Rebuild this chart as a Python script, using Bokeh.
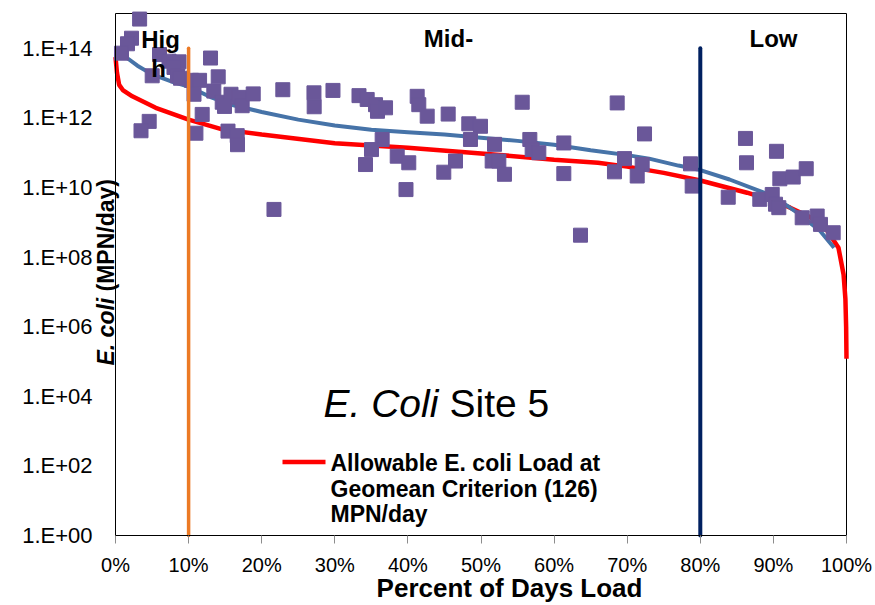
import math

from bokeh.plotting import figure
from bokeh.models import Label, FixedTicker
from bokeh.embed import file_html
from bokeh.resources import INLINE

# Allowable load curve (flow duration x geomean criterion): % of days vs log10(MPN/day)
allow_pct = [0.0, 0.2, 0.5, 1.0, 2.3, 5.5, 10, 14.6, 20, 30, 40, 50, 60, 66, 70,
             75, 80, 86.4, 90, 92.3, 95, 97.4, 98.9, 99.6, 99.85, 99.95, 100]
allow_log = [13.75, 13.3, 12.95, 12.8, 12.62, 12.29, 11.95, 11.67, 11.52, 11.27, 11.14,
             10.98, 10.8, 10.71, 10.6, 10.42, 10.2, 9.85, 9.62, 9.42, 9.15, 8.75,
             8.27, 7.5, 6.8, 6.0, 5.08]

# Fitted trend through the observed loads
fit_pct = [1.4, 3, 5, 8, 10, 13, 16, 20, 25, 30, 35, 40, 45, 50, 55, 60, 65, 70,
           73, 77, 80, 84, 88.7, 91, 93.3, 96.4, 98.3]
fit_log = [13.75, 13.5, 13.25, 13.02, 12.9, 12.6, 12.37, 12.17, 11.95, 11.78, 11.66,
           11.59, 11.52, 11.43, 11.34, 11.23, 11.07, 10.93, 10.83, 10.63, 10.5,
           10.23, 9.85, 9.6, 9.27, 8.75, 8.27]

# Observed E. coli loads
obs_pct = [3.30, 2.19, 1.64, 0.82, 6.02, 5.02, 4.61, 3.49, 7.32, 8.69, 8.00, 8.48,
           8.89, 10.4, 11.5, 10.74, 11.86, 11.0, 13.0, 14.05, 13.45, 14.6, 15.8, 16.96,
           14.91, 17.33, 18.84, 15.39, 16.65, 16.69, 22.89, 27.15, 27.18, 29.75, 33.31,
           34.43, 35.57, 35.84, 36.94, 36.48, 35.02, 34.2, 38.54, 40.12, 39.74, 21.68,
           41.27, 41.49, 42.64, 45.51, 48.33, 49.93, 48.56, 55.64, 51.85, 56.68, 57.0,
           57.91, 61.33, 61.33, 46.51, 44.91, 51.53, 52.44, 53.21, 68.63, 72.37, 69.63,
           68.26, 72.05, 71.37, 78.66, 78.89, 63.61, 86.18, 86.32, 90.42, 83.82, 90.88,
           92.71, 94.49, 88.14, 89.84, 90.29, 90.74, 93.94, 95.99, 96.44, 98.18]
obs_log = [14.84, 14.29, 14.13, 13.86, 13.82, 13.21, 11.90, 11.63, 13.63, 13.61, 13.45,
           13.21, 13.14, 13.08, 13.08, 12.68, 12.10, 11.56, 13.72, 13.18, 12.77, 12.45,
           12.68, 12.59, 12.33, 12.35, 12.69, 11.62, 11.49, 11.23, 12.81, 12.72, 12.32,
           12.79, 12.64, 12.53, 12.38, 12.19, 12.29, 11.38, 11.09, 10.66, 10.9, 10.71,
           9.94, 9.37, 12.62, 12.38, 12.05, 12.11, 11.83, 11.76, 11.38, 12.45, 11.24,
           11.38, 11.09, 11.0, 11.28, 10.40, 10.76, 10.44, 10.76, 10.76, 10.38, 12.43,
           11.54, 10.83, 10.45, 10.66, 10.33, 10.68, 10.04, 8.63, 11.41, 10.71, 11.04,
           9.72, 10.25, 10.30, 10.54, 9.66, 9.80, 9.52, 9.42, 9.13, 9.18, 8.94, 8.70]

# Flow regime boundaries
zone_bounds = [10, 80]
zone_colors = ["#EC7A25", "#002060"]

x_ticks = [0, 10, 20, 30, 40, 50, 60, 70, 80, 90, 100]
x_tick_labels = ["0%", "10%", "20%", "30%", "40%", "50%", "60%", "70%", "80%", "90%", "100%"]
y_exponents = [0, 2, 4, 6, 8, 10, 12, 14]
y_tick_labels = ["1.E+00", "1.E+02", "1.E+04", "1.E+06", "1.E+08", "1.E+10", "1.E+12", "1.E+14"]

X_MIN, X_MAX = 0, 100
Y_MIN, Y_MAX = 1.0, 1e15

FONT = "Liberation Sans"
W, H = 875, 605
# where the plotting box sits on the canvas
BOX_LEFT, BOX_RIGHT, BOX_TOP, BOX_BOTTOM = 115, 846, 13, 535
# offset (in em) between a Label's anchor and the drawn baseline
BASELINE_SHIFT = 0.37


def sx(px):
    """Canvas pixel column -> percent of days."""
    return X_MIN + (px - BOX_LEFT) / (BOX_RIGHT - BOX_LEFT) * (X_MAX - X_MIN)


def sy(py):
    """Canvas pixel row -> load (log axis)."""
    decades = math.log10(Y_MAX / Y_MIN)
    return Y_MIN * 10 ** ((BOX_BOTTOM - py) / (BOX_BOTTOM - BOX_TOP) * decades)


# The data frame spans the whole canvas; axes are pinned to the plotting box
p = figure(width=W, height=H, x_range=(sx(0), sx(W)), y_range=(sy(H), sy(0)),
           y_axis_type="log", output_backend="svg", toolbar_location=None,
           min_border_left=0, min_border_right=0, min_border_top=0, min_border_bottom=0)

p.background_fill_color = "white"
p.border_fill_color = "white"
p.outline_line_color = None
p.xgrid.visible = False
p.ygrid.visible = False

# x axis
p.xaxis.fixed_location = Y_MIN
p.xaxis.bounds = (X_MIN, X_MAX)
p.xaxis.ticker = FixedTicker(ticks=x_ticks)
p.xaxis.major_label_overrides = {t: lab for t, lab in zip(x_ticks, x_tick_labels)}
p.xaxis.minor_tick_line_color = None
p.xaxis.major_tick_in = 0
p.xaxis.major_tick_out = 8
p.xaxis.major_tick_line_color = "#8c8c8c"
p.xaxis.axis_line_color = "black"
p.xaxis.major_label_text_font = FONT
p.xaxis.major_label_text_font_size = "20px"
p.xaxis.major_label_text_color = "black"
p.xaxis.major_label_standoff = 10

# y axis
y_ticks = [float(10 ** e) for e in y_exponents]
p.yaxis.fixed_location = X_MIN
p.yaxis.bounds = (Y_MIN, Y_MAX)
p.yaxis.ticker = FixedTicker(ticks=y_ticks)
p.yaxis.major_label_overrides = {t: lab for t, lab in zip(y_ticks, y_tick_labels)}
p.yaxis.minor_tick_line_color = None
p.yaxis.major_tick_in = 0
p.yaxis.major_tick_out = 0
p.yaxis.axis_line_color = "black"
p.yaxis.major_label_text_font = FONT
p.yaxis.major_label_text_font_size = "22px"
p.yaxis.major_label_text_color = "black"
p.yaxis.major_label_standoff = 23

# top and right edges of the plotting box
p.multi_line(xs=[[X_MIN, X_MAX], [X_MAX, X_MAX]], ys=[[Y_MAX, Y_MAX], [Y_MIN, Y_MAX]],
             line_color="black", line_width=1)

# curves
p.line(allow_pct, [10 ** v for v in allow_log], line_color="#FF0000", line_width=4.5)
p.line(fit_pct, [10 ** v for v in fit_log], line_color="#4673A8", line_width=4)

# observations
p.scatter(obs_pct, [10 ** v for v in obs_log], marker="square", size=14,
          fill_color="#6A5799", line_color="#6A5799", line_width=1)

# regime boundaries
p.segment(x0=zone_bounds, y0=[Y_MIN] * len(zone_bounds), x1=zone_bounds,
          y1=[1e14] * len(zone_bounds), line_color=zone_colors,
          line_width=[3.5, 4], line_cap="round")


def label(text, px, py, size, style="bold", align="left", vertical=False):
    """Text whose baseline starts (or is centred) at canvas pixel (px, py)."""
    shift = BASELINE_SHIFT * size
    if vertical:
        px -= shift
    else:
        py -= shift
    p.add_layout(Label(x=sx(px), y=sy(py), text=text, text_font=FONT,
                       text_font_size=f"{size}px", text_font_style=style,
                       text_align=align, text_baseline="alphabetic",
                       text_color="black", angle=math.pi / 2 if vertical else 0.0))


# flow regime names
label("Hig", 160, 48, 24, align="center")
label("h", 158, 77, 24, align="center")
label("Mid-", 448, 47, 24, align="center")
label("Low", 773, 47, 24, align="center")

# chart title inside the plot
label("E. Coli", 323, 417, 39, style="italic")
label("Site 5", 449, 417, 39, style="normal")

# legend
p.line([sx(282), sx(325)], [sy(461.5)] * 2, line_color="#FF0000", line_width=4.5)
for txt, base in zip(["Allowable E. coli Load at", "Geomean Criterion (126)", "MPN/day"],
                     [471.5, 497, 522.5]):
    label(txt, 330, base, 23)

# axis titles
label("Percent of Days Load", 509, 597, 26, align="center")
label("E. coli", 114, 365, 23, style="bold italic", vertical=True)
label("(MPN/day)", 114, 291, 23, vertical=True)

open("out.html", "w").write(file_html(p, INLINE))
